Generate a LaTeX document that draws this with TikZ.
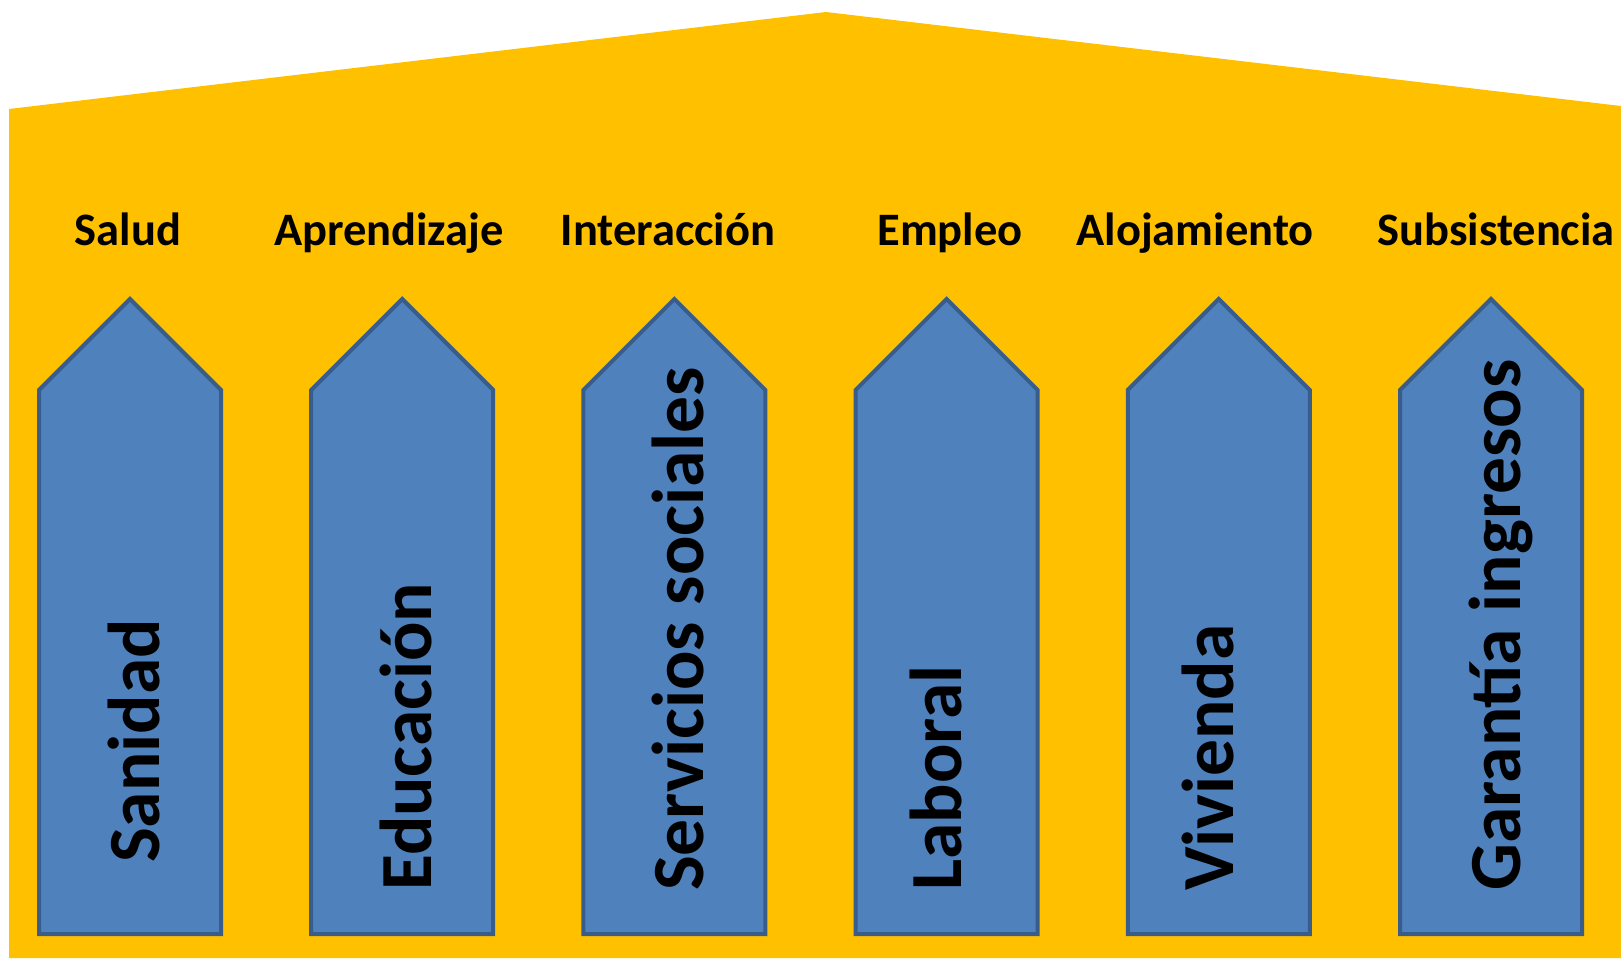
\documentclass[tikz,border=0pt]{standalone}
\usepackage{fontspec}
\setmainfont{Carlito}
\definecolor{roofyellow}{HTML}{FFC000}
\definecolor{pillarfill}{HTML}{4F81BD}
\definecolor{pillarline}{HTML}{385D8A}
\tikzset{
  pillar/.style={fill=pillarfill, draw=pillarline, line width=4pt, line join=miter},
  toplabel/.style={anchor=base, inner sep=0pt, text=black, font=\fontsize{46.5}{50}\selectfont\bfseries},
  pillarlabel/.style={anchor=base west, rotate=90, inner sep=0pt, text=black, font=\fontsize{73.5}{80}\selectfont\bfseries}
}
\begin{document}
\begin{tikzpicture}[x=1pt,y=-1pt]
\useasboundingbox (0,0) rectangle (1621,958);
% house
\fill[roofyellow] (9,958) -- (9,109) -- (826,12) -- (1621,106) -- (1621,958) -- cycle;
% pillars
\foreach \i/\top/\low/\start/\off in {0/Salud/Sanidad/863/29, 1/Aprendizaje/Educación/891/29, 2/Interacción/Servicios sociales/891/29, 3/Empleo/Laboral/891/15, 4/Alojamiento/Vivienda/891/15, 5/Subsistencia/Garantía ingresos/891/29}{
  \pgfmathsetmacro{\c}{130+272.2*\i}
  \draw[pillar] (\c-91,934) -- (\c-91,390) -- (\c,299) -- (\c+91,390) -- (\c+91,934) -- cycle;
  \node[pillarlabel] (p\i) at (\c+\off,\start) {\low};
}
\node[toplabel] (t0) at (128,245.7) {Salud};
\node[toplabel] (t1) at (389,245.7) {Aprendizaje};
\node[toplabel] (t2) at (668,245.7) {Interacción};
\node[toplabel] (t3) at (950,245.7) {Empleo};
\node[toplabel] (t4) at (1195,245.7) {Alojamiento};
\node[toplabel] (t5) at (1496,245.7) {Subsistencia};
\end{tikzpicture}
\end{document}
